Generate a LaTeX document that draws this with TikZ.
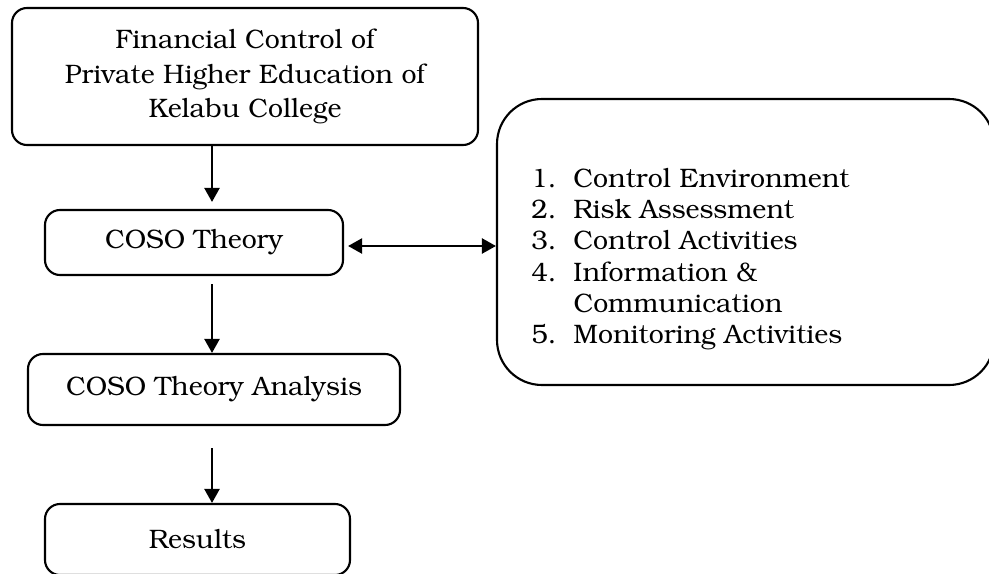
\documentclass[tikz,border=0pt]{standalone}
\usepackage[T1]{fontenc}
\usepackage{bookman}
\usepackage{tikz}
\usetikzlibrary{arrows.meta,positioning,calc}

\begin{document}
\begin{tikzpicture}[%
          box/.style={draw,
              rounded corners=0.3cm,
              line width=1.2pt,
              align=center,
              inner sep=0pt,
              font=\fontsize{15.2}{19.6}\selectfont},
          arr/.style={line width=1.3pt,
              -{Triangle[length=0.28cm,width=0.3cm]}},
          arrboth/.style={line width=1.3pt,
              {Triangle[length=0.28cm,width=0.3cm]}-{Triangle[length=0.28cm,width=0.3cm]}},
        ]
        \useasboundingbox (0,0) rectangle (19.78,-11.46);

        \node[box,minimum width=9.32cm,minimum height=2.74cm] (fin) at (4.9,-1.53)
            {Financial Control of\\Private Higher Education of\\Kelabu College};
        \node[box,minimum width=5.96cm,minimum height=1.3cm] (coso) at (3.88,-4.85) {COSO Theory};
        \node[box,minimum width=7.44cm,minimum height=1.42cm] (analysis) at (4.28,-7.79) {COSO Theory Analysis};
        \node[box,minimum width=6.1cm,minimum height=1.42cm] (results) at (3.95,-10.79) {Results};
        \node[box,rounded corners=0.9cm,minimum width=9.94cm,minimum height=5.72cm] (comp) at (14.91,-4.84) {};
        \node[anchor=north west,inner sep=0pt,font=\fontsize{15.2}{17.8}\selectfont]
            (complist) at ([xshift=0.7cm,yshift=-1.34cm]comp.north west)
            {\begin{tabular}{@{}l@{\ \ }l@{}}
              1. & Control Environment\\
              2. & Risk Assessment\\
              3. & Control Activities\\
              4. & Information \&\\
                 & Communication\\
              5. & Monitoring Activities
             \end{tabular}};

        % arrows down the left column
        \coordinate (ax) at (4.24,0);
        \draw[arr] (fin.south -| ax) -- ([yshift=0.14cm]coso.north -| ax);
        \draw[arr] ([yshift=-0.16cm]coso.south -| ax) -- (analysis.north -| ax);
        \draw[arr] ([yshift=-0.44cm]analysis.south -| ax) -- (results.north -| ax);

        % link to the components
        \coordinate (lk) at ([xshift=0.08cm,yshift=-0.07cm]coso.east);
        \draw[arrboth] (lk) -- (lk -| comp.west);
      \end{tikzpicture}
\end{document}
